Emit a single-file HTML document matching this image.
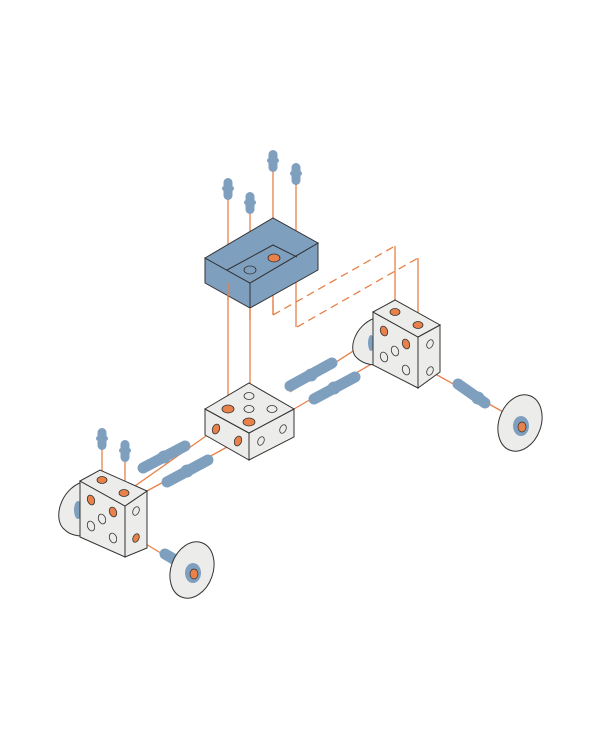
<!DOCTYPE html>
<html><head><meta charset="utf-8"><style>html,body{margin:0;padding:0;background:#fff}svg{display:block}</style></head>
<body>
<svg width="600" height="750" viewBox="0 0 600 750" xmlns="http://www.w3.org/2000/svg">
<defs>
<g id="peg"><rect x="-4.5" y="0" width="9" height="22" rx="4.5" fill="#7f9fbf"/><rect x="-6" y="8" width="12" height="5" rx="2.5" fill="#7f9fbf"/></g>
</defs>
<g stroke="#e8814a" stroke-width="1.3" fill="none">
<line x1="228" y1="198" x2="228" y2="408"/>
<line x1="250" y1="212" x2="250" y2="422"/>
<line x1="273" y1="170" x2="273" y2="315"/>
<line x1="296" y1="184" x2="296" y2="327"/>
<line x1="273" y1="315" x2="395" y2="246" stroke-dasharray="8,5"/>
<line x1="297" y1="327" x2="418" y2="258" stroke-dasharray="8,5"/>
<line x1="395" y1="246" x2="395" y2="312"/>
<line x1="418" y1="258" x2="418" y2="325"/>
<line x1="102" y1="448" x2="102" y2="480"/>
<line x1="125" y1="460" x2="125" y2="493"/>
<line x1="125" y1="493" x2="216" y2="429"/>
<line x1="147" y1="491" x2="238" y2="441"/>
<line x1="290" y1="392" x2="384" y2="331"/>
<line x1="294" y1="409" x2="406" y2="344"/>
<line x1="430" y1="371" x2="505" y2="413"/>
<line x1="136" y1="538" x2="192" y2="572"/>
</g>
<use href="#peg" x="228" y="178"/><use href="#peg" x="250" y="192"/><use href="#peg" x="273" y="150"/><use href="#peg" x="296" y="163"/>
<use href="#peg" x="102" y="428"/><use href="#peg" x="125" y="440"/>
<g stroke="#333" stroke-width="1" fill="#7f9fbf">
<polygon points="205,258 250,283 250,308 205,283"/>
<polygon points="250,283 318,243 318,270 250,308"/>
<polygon points="205,258 273,218 318,243 250,283"/>
</g>
<g stroke="#333" stroke-width="1" fill="none"><polyline points="227,270 273,245 297,257"/></g>
<ellipse cx="274" cy="258" rx="6" ry="4" fill="#e8814a" stroke="#333" stroke-width=".8"/>
<ellipse cx="250" cy="270" rx="6" ry="4" fill="none" stroke="#333" stroke-width=".8"/>
<g stroke="#e8814a" stroke-width="1.3"><line x1="228" y1="283" x2="228" y2="300"/><line x1="250" y1="308" x2="250" y2="320"/><line x1="273" y1="300" x2="273" y2="315"/></g>
<g stroke="#7f9fbf" stroke-width="11" stroke-linecap="round">
<line x1="143" y1="468" x2="185" y2="446"/>
<line x1="167" y1="482" x2="208" y2="460"/>
<line x1="290" y1="386" x2="332" y2="363"/>
<line x1="314" y1="399" x2="355" y2="377"/>
<line x1="458" y1="384" x2="485" y2="403"/>
<line x1="165" y1="554" x2="177" y2="561"/>
</g>
<g fill="#7f9fbf">
<circle cx="164" cy="457" r="6.5"/><circle cx="187" cy="471" r="6.5"/><circle cx="311" cy="375" r="6.5"/><circle cx="334" cy="388" r="6.5"/><circle cx="478" cy="398" r="6.5"/>
</g>
<g stroke="#333" stroke-width="1" fill="#ececea">
<polygon points="205,409 249,433 249,460 205,435"/>
<polygon points="249,433 294,409 294,437 249,460"/>
<polygon points="205,409 249,383 294,409 249,433"/>
</g>
<g stroke="#333" stroke-width=".8">
<ellipse cx="228" cy="409" rx="6" ry="4" fill="#e8814a"/>
<ellipse cx="249" cy="422" rx="6" ry="4" fill="#e8814a"/>
<ellipse cx="249" cy="409" rx="5" ry="3.5" fill="none"/>
<ellipse cx="249" cy="396" rx="5" ry="3.5" fill="none"/>
<ellipse cx="272" cy="409" rx="5" ry="3.5" fill="none"/>
<ellipse cx="216" cy="429" rx="3.5" ry="5" fill="#e8814a" transform="rotate(20 216 429)"/>
<ellipse cx="238" cy="441" rx="3.5" ry="5" fill="#e8814a" transform="rotate(20 238 441)"/>
<ellipse cx="261" cy="441" rx="3" ry="4.5" fill="none" transform="rotate(25 261 441)"/>
<ellipse cx="283" cy="429" rx="3" ry="4.5" fill="none" transform="rotate(25 283 429)"/>
</g>
<path d="M82,482 C60,490 52,520 65,530 C70,535 78,536 82,536 Z" fill="#ececea" stroke="#333" stroke-width="1"/>
<ellipse cx="78" cy="510" rx="4" ry="9" fill="#7f9fbf"/>
<g stroke="#333" stroke-width="1" fill="#ececea">
<polygon points="80,481 125,506 125,557 80,537"/>
<polygon points="125,506 147,491 147,548 125,557"/>
<polygon points="80,481 100,470 147,491 125,506"/>
</g>
<g stroke="#333" stroke-width=".8">
<ellipse cx="102" cy="480" rx="5" ry="3.5" fill="#e8814a"/>
<ellipse cx="124" cy="493" rx="5" ry="3.5" fill="#e8814a"/>
<ellipse cx="91" cy="500" rx="3.5" ry="5" fill="#e8814a" transform="rotate(-20 91 500)"/>
<ellipse cx="113" cy="512" rx="3.5" ry="5" fill="#e8814a" transform="rotate(-20 113 512)"/>
<ellipse cx="102" cy="519" rx="3.5" ry="5" fill="none" transform="rotate(-20 102 519)"/>
<ellipse cx="91" cy="526" rx="3.5" ry="5" fill="none" transform="rotate(-20 91 526)"/>
<ellipse cx="113" cy="538" rx="3.5" ry="5" fill="none" transform="rotate(-20 113 538)"/>
<ellipse cx="136" cy="511" rx="3" ry="4.5" fill="none" transform="rotate(25 136 511)"/>
<ellipse cx="136" cy="538" rx="3" ry="4.5" fill="#e8814a" transform="rotate(25 136 538)"/>
</g>
<ellipse cx="192" cy="570" rx="21" ry="29" transform="rotate(20 192 570)" fill="#ececea" stroke="#333" stroke-width="1"/>
<ellipse cx="193" cy="573" rx="8" ry="10" fill="#7f9fbf"/>
<ellipse cx="194" cy="574" rx="4" ry="5" fill="#e8814a" stroke="#333" stroke-width=".7"/>
<path d="M375,318 C355,325 347,350 357,358 C362,363 370,365 375,365 Z" fill="#ececea" stroke="#333" stroke-width="1"/>
<ellipse cx="371" cy="343" rx="3" ry="8" fill="#7f9fbf"/>
<g stroke="#333" stroke-width="1" fill="#ececea">
<polygon points="373,312 418,337 418,388 373,365"/>
<polygon points="418,337 440,325 440,372 418,388"/>
<polygon points="373,312 395,300 440,325 418,337"/>
</g>
<g stroke="#333" stroke-width=".8">
<ellipse cx="395" cy="312" rx="5" ry="3.5" fill="#e8814a"/>
<ellipse cx="418" cy="325" rx="5" ry="3.5" fill="#e8814a"/>
<ellipse cx="384" cy="331" rx="3.5" ry="5" fill="#e8814a" transform="rotate(-20 384 331)"/>
<ellipse cx="406" cy="344" rx="3.5" ry="5" fill="#e8814a" transform="rotate(-20 406 344)"/>
<ellipse cx="395" cy="351" rx="3.5" ry="5" fill="none" transform="rotate(-20 395 351)"/>
<ellipse cx="384" cy="357" rx="3.5" ry="5" fill="none" transform="rotate(-20 384 357)"/>
<ellipse cx="406" cy="370" rx="3.5" ry="5" fill="none" transform="rotate(-20 406 370)"/>
<ellipse cx="430" cy="344" rx="3" ry="4.5" fill="none" transform="rotate(25 430 344)"/>
<ellipse cx="430" cy="371" rx="3" ry="4.5" fill="none" transform="rotate(25 430 371)"/>
</g>
<ellipse cx="520" cy="423" rx="21" ry="29" transform="rotate(20 520 423)" fill="#ececea" stroke="#333" stroke-width="1"/>
<ellipse cx="521" cy="426" rx="8" ry="10" fill="#7f9fbf"/>
<ellipse cx="522" cy="427" rx="4" ry="5" fill="#e8814a" stroke="#333" stroke-width=".7"/>
</svg>
</body></html>
